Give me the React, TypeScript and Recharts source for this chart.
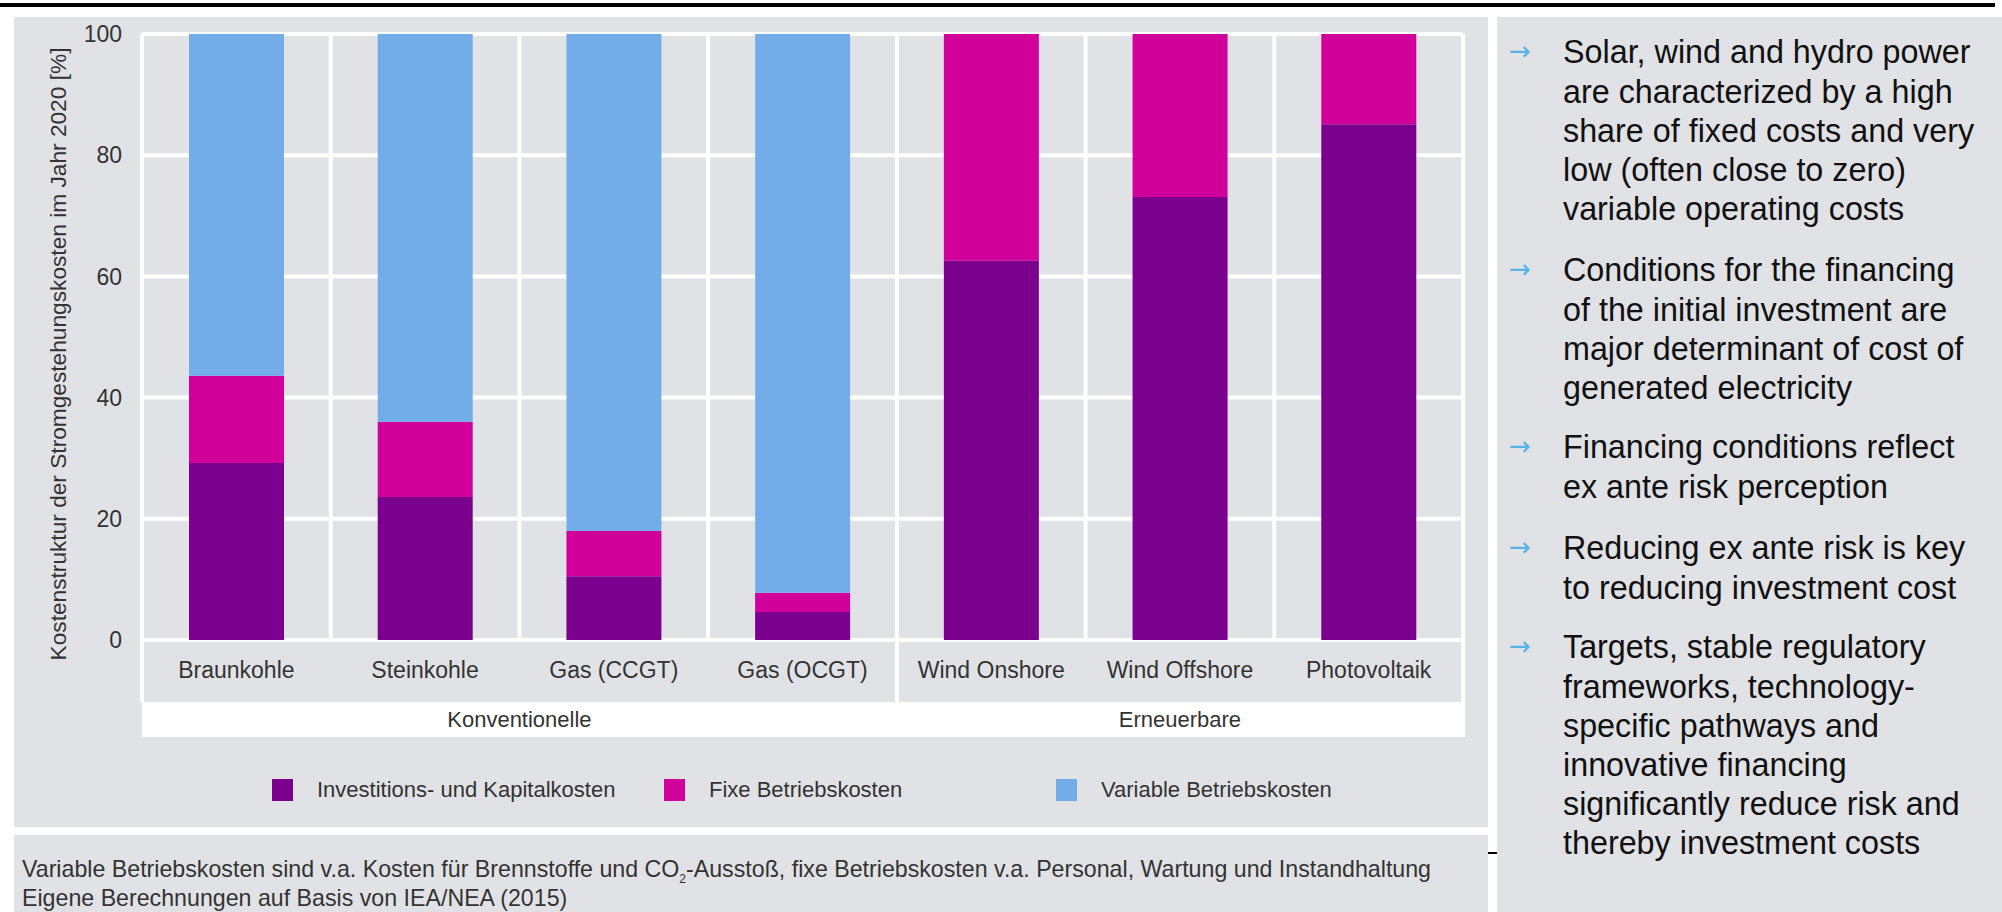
import { BarChart, Bar, XAxis, YAxis, CartesianGrid, Label } from "recharts";

const categories = [
  "Braunkohle",
  "Steinkohle",
  "Gas (CCGT)",
  "Gas (OCGT)",
  "Wind Onshore",
  "Wind Offshore",
  "Photovoltaik",
];
const investment = [29.2, 23.6, 10.5, 4.6, 62.6, 73.1, 85.1];
const fixedCosts = [14.4, 12.4, 7.5, 3.2, 37.4, 26.9, 14.9];
const variableCosts = [56.4, 64.0, 82.0, 92.2, 0, 0, 0];
const yTicks = [0, 20, 40, 60, 80, 100];

const groups = ["Konventionelle", "Erneuerbare"];
const groupSizes = [4, 3];

const seriesKeys = ["invest", "fixed", "variable"];
const seriesNames = [
  "Investitions- und Kapitalkosten",
  "Fixe Betriebskosten",
  "Variable Betriebskosten",
];
const seriesColors = ["#7b008d", "#d2009b", "#72adea"];

const yTitle = "Kostenstruktur der Stromgestehungskosten im Jahr 2020 [%]";
const sourceLine = "Eigene Berechnungen auf Basis von IEA/NEA (2015)";

const bullets = [
  [
    "Solar, wind and hydro power",
    "are characterized by a high",
    "share of fixed costs and very",
    "low (often close to zero)",
    "variable operating costs",
  ],
  [
    "Conditions for the financing",
    "of the initial investment are",
    "major determinant of cost of",
    "generated electricity",
  ],
  ["Financing conditions reflect", "ex ante risk perception"],
  ["Reducing ex ante risk is key", "to reducing investment cost"],
  [
    "Targets, stable regulatory",
    "frameworks, technology-",
    "specific pathways and",
    "innovative financing",
    "significantly reduce risk and",
    "thereby investment costs",
  ],
];
const bulletTops = [52, 270, 447, 548, 647];

const data = categories.map((name, i) => ({
  name,
  invest: investment[i],
  fixed: fixedCosts[i],
  variable: variableCosts[i],
}));

// layout
const PANEL_BG = "#e1e2e6";
const TEXT = "#333";
const SANS = "'Liberation Sans', Arial, sans-serif";
const CHART_W = 1488;
const CHART_H = 827;
const PLOT_L = 142;
const PLOT_R = 1463;
const PLOT_T = 34;
const PLOT_B = 640;
const AXIS_H = 60;
const BAND = (PLOT_R - PLOT_L) / categories.length;
const LINE_H = 39.2;

const boundaries = categories.map((_, i) => PLOT_L + i * BAND).concat(PLOT_R);

function abs(left: number, top: number, width: number, height: number, extra = {}) {
  return { position: "absolute" as const, left, top, width, height, ...extra };
}

export default function App() {
  let acc = 0;
  const groupCenters = groupSizes.map((n) => {
    const c = PLOT_L + (acc + n / 2) * BAND;
    acc += n;
    return c;
  });
  const groupEdge = PLOT_L + groupSizes[0] * BAND;

  return (
    <div style={abs(0, 0, 2002, 912, { background: "#fff", overflow: "hidden", fontFamily: SANS })}>
      <div style={abs(0, 3, 1995, 4, { background: "#000" })} />
      <div style={abs(14, 17, 1474, 810, { background: PANEL_BG })} />
      <div style={abs(14, 835, 1474, 77, { background: PANEL_BG })} />
      <div style={abs(1497, 17, 505, 895, { background: PANEL_BG })} />
      <div style={abs(1488, 852, 9, 2, { background: "#000" })} />

      {/* label band separators and group band */}
      <div style={abs(PLOT_L - 2, PLOT_B, 4, 62, { background: "#fff" })} />
      <div style={abs(groupEdge - 2, PLOT_B, 4, 62, { background: "#fff" })} />
      <div style={abs(PLOT_R - 2, PLOT_B, 4, 62, { background: "#fff" })} />
      <div style={abs(PLOT_L, 702, PLOT_R - PLOT_L + 2, 35, { background: "#fff" })} />
      {groups.map((g, i) => (
        <div
          key={g}
          style={abs(groupCenters[i] - 200, 702, 400, 35, {
            textAlign: "center",
            lineHeight: "35px",
            fontSize: 22,
            color: TEXT,
          })}
        >
          {g}
        </div>
      ))}

      <div style={abs(0, 0, CHART_W, CHART_H)}>
        <BarChart
          width={CHART_W}
          height={CHART_H}
          data={data}
          margin={{ top: PLOT_T, right: CHART_W - PLOT_R, left: 0, bottom: CHART_H - PLOT_B - AXIS_H }}
          barSize={95}
        >
          <CartesianGrid stroke="#fff" strokeWidth={4} verticalPoints={boundaries} />
          <XAxis
            dataKey="name"
            height={AXIS_H}
            axisLine={false}
            tickLine={false}
            tickSize={0}
            tickMargin={22}
            interval={0}
            tick={{ fill: TEXT, fontSize: 23, fontFamily: SANS }}
          />
          <YAxis
            width={PLOT_L}
            domain={[0, 100]}
            ticks={yTicks}
            axisLine={false}
            tickLine={false}
            tickSize={0}
            tickMargin={20}
            tick={{ fill: TEXT, fontSize: 23, fontFamily: SANS }}
          >
            <Label
              content={() => (
                <text
                  x={58}
                  y={354}
                  transform="rotate(-90, 58, 354)"
                  textAnchor="middle"
                  dominantBaseline="central"
                  fill={TEXT}
                  fontSize={22.7}
                  fontFamily={SANS}
                >
                  {yTitle}
                </text>
              )}
            />
          </YAxis>
          {seriesKeys.map((k, i) => (
            <Bar
              key={k}
              dataKey={k}
              name={seriesNames[i]}
              stackId="a"
              fill={seriesColors[i]}
              isAnimationActive={false}
            />
          ))}
        </BarChart>
      </div>

      {/* legend */}
      {seriesNames.map((n, i) => (
        <div key={n} style={abs(272 + i * 392, 776, 380, 28)}>
          <div style={abs(0, 3, 21, 22, { background: seriesColors[i] })} />
          <div style={abs(45, 0, 340, 28, { fontSize: 22, lineHeight: "28px", color: TEXT, whiteSpace: "nowrap" })}>
            {n}
          </div>
        </div>
      ))}

      {/* footnote */}
      <div style={abs(22, 855, 1460, 57, { fontSize: 23.2, lineHeight: "29px", color: TEXT, whiteSpace: "nowrap" })}>
        <div>
          Variable Betriebskosten sind v.a. Kosten für Brennstoffe und CO<sub style={{ fontSize: 12, lineHeight: 0 }}>2</sub>
          -Ausstoß, fixe Betriebskosten v.a. Personal, Wartung und Instandhaltung
        </div>
        <div>{sourceLine}</div>
      </div>

      {/* right text panel */}
      {bullets.map((lines, i) => (
        <div key={i}>
          <div
            style={abs(1509, bulletTops[i] - LINE_H / 2, 30, LINE_H, {
              color: "#55b4e6",
              fontSize: 26,
              fontFamily: "'DejaVu Sans', sans-serif",
              lineHeight: `${LINE_H}px`,
            })}
          >
            →
          </div>
          <div
            style={abs(1563, bulletTops[i] - LINE_H / 2, 460, LINE_H * lines.length, {
              fontSize: 34,
              lineHeight: `${LINE_H}px`,
              color: "#111",
              whiteSpace: "nowrap",
              transform: "scaleX(0.95)",
              transformOrigin: "left top",
            })}
          >
            {lines.map((l) => (
              <div key={l}>{l}</div>
            ))}
          </div>
        </div>
      ))}
    </div>
  );
}
